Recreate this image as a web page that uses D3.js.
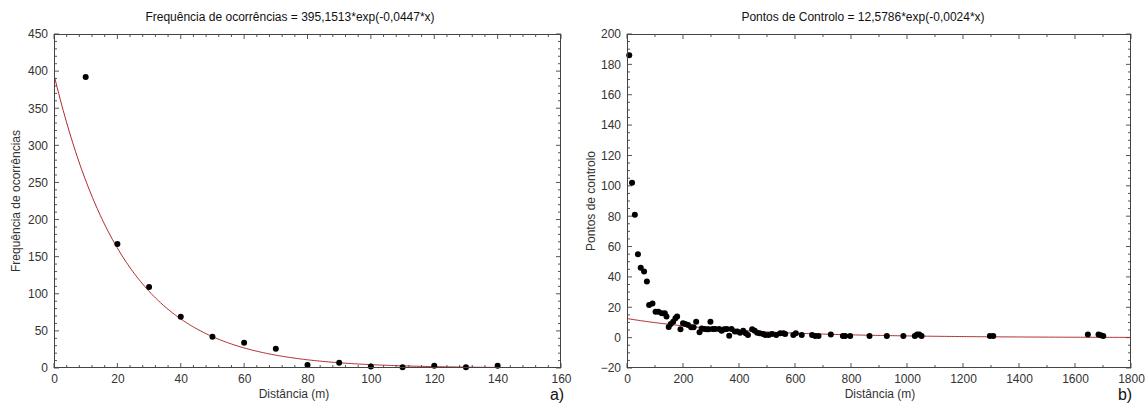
<!DOCTYPE html>
<html>
<head>
<meta charset="utf-8">
<script src="https://cdn.jsdelivr.net/npm/d3@7"></script>
<style>
  body { margin: 0; background: #fff; }
  svg { display: block; font-family: Arial, "Liberation Sans", sans-serif; }
  .tick-label { font-size: 12px; fill: #333; }
  .title { font-size: 12px; fill: #111; }
  .axis-title { font-size: 12px; fill: #333; }
  .panel-tag { font-size: 16px; fill: #111; }
  .frame { fill: none; stroke: #444; stroke-width: 1; }
  .tk { stroke: #555; stroke-width: 1; }
  .fit { fill: none; stroke: #b22a2a; stroke-width: 1; }
  .dot { fill: #000; }
</style>
</head>
<body>
<div id="chart"></div>
<script>
// painel a) frequencia de ocorrencias
const distA = [10, 20, 30, 40, 50, 60, 70, 80, 90, 100, 110, 120, 130, 140]
const freqA = [392, 167, 109, 69, 42, 34, 26, 4, 7, 2, 1, 3, 1, 3]
const fitA = { a: 395.1513, b: -0.0447, xmax: 146 }

// painel b) pontos de controlo
const distB = [8, 18, 28, 39, 49, 61, 71, 79, 91, 102, 112, 124, 135, 141,
  149, 156, 165, 173, 179, 191, 200, 208, 218, 229, 238, 247, 259, 267, 276,
  285, 292, 298, 306, 315, 329, 338, 347, 356, 365, 373, 385, 394, 404, 415,
  424, 432, 447, 456, 465, 474, 486, 494, 506, 518, 533, 547, 559, 565, 594,
  603, 624, 661, 672, 684, 728, 771, 779, 797, 866, 928, 987, 1028, 1036,
  1044, 1052, 1296, 1308, 1646, 1684, 1692, 1701]
const pontosB = [186, 102, 81, 55, 46, 43.5, 37, 21.5, 22.5, 17, 17, 16, 16, 14,
  7, 9, 10.5, 12.7, 14, 5.5, 9.4, 9, 8.3, 6.8, 6.8, 10.5, 3.5, 6, 5.7,
  5.5, 5.5, 10.5, 5.7, 5.7, 5.7, 4.6, 5.5, 5.7, 1.3, 5.7, 4, 4, 3.3, 4.6,
  2.9, 1.8, 5.5, 4.6, 3.3, 2.9, 2.4, 1.8, 1.8, 2.4, 1.8, 2.9, 2.9, 2.4, 1.8,
  2.9, 1.8, 1.8, 1, 1, 2, 1, 1, 1, 1, 1, 1, 1, 2, 2, 1,
  1, 1, 2, 2, 1.5, 1]
const fitB = { a: 12.5786, b: -0.0024, xmax: 1800 }

const W = 1147, H = 403

const svg = d3.select('#chart').append('svg')
  .attr('width', W)
  .attr('height', H)

const panels = [
  {
    xs: distA, ys: freqA, fit: fitA,
    left: 54, right: 561, top: 34, bottom: 368,
    xDomain: [0, 160], xMajor: 20, xMinor: 4,
    yDomain: [0, 450], yMajor: 50, yMinor: 10,
    title: 'Frequência de ocorrências = 395,1513*exp(-0,0447*x)',
    titleX: 290,
    yTitle: 'Frequência de ocorrências', yTitleX: 16,
    xTitle: 'Distância (m)', xTitleX: 294,
    tag: 'a)', tagX: 557
  },
  {
    xs: distB, ys: pontosB, fit: fitB,
    left: 627, right: 1131, top: 34, bottom: 368,
    xDomain: [0, 1800], xMajor: 200, xMinor: 100,
    yDomain: [-20, 200], yMajor: 20, yMinor: 5,
    title: 'Pontos de Controlo = 12,5786*exp(-0,0024*x)',
    titleX: 863,
    yTitle: 'Pontos de controlo', yTitleX: 591,
    xTitle: 'Distância (m)', xTitleX: 880,
    tag: 'b)', tagX: 1125
  }
]

function ticksBetween(lo, hi, step) {
  const out = []
  const n = Math.round((hi - lo) / step)
  for (let i = 0; i <= n; i++) out.push(lo + i * step)
  return out
}

panels.forEach(p => {
  const g = svg.append('g')
  const x = d3.scaleLinear().domain(p.xDomain).range([p.left, p.right])
  const y = d3.scaleLinear().domain(p.yDomain).range([p.bottom, p.top])

  // clip para a curva
  const clipId = 'clip' + p.left
  g.append('clipPath').attr('id', clipId)
    .append('rect')
    .attr('x', p.left).attr('y', p.top)
    .attr('width', p.right - p.left).attr('height', p.bottom - p.top)

  // ticks minor / major nos 4 lados, para dentro
  const xMinors = ticksBetween(p.xDomain[0], p.xDomain[1], p.xMinor)
  const yMinors = ticksBetween(p.yDomain[0], p.yDomain[1], p.yMinor)
  const isMajor = (v, step, lo) => Math.abs(((v - lo) / step) - Math.round((v - lo) / step)) < 1e-6

  const tg = g.append('g')
  xMinors.forEach(v => {
    const len = isMajor(v, p.xMajor, p.xDomain[0]) ? 5 : 3
    tg.append('line').attr('class', 'tk')
      .attr('x1', x(v)).attr('x2', x(v))
      .attr('y1', p.bottom).attr('y2', p.bottom - len)
    tg.append('line').attr('class', 'tk')
      .attr('x1', x(v)).attr('x2', x(v))
      .attr('y1', p.top).attr('y2', p.top + len)
  })
  yMinors.forEach(v => {
    const len = isMajor(v, p.yMajor, p.yDomain[0]) ? 5 : 3
    tg.append('line').attr('class', 'tk')
      .attr('x1', p.left).attr('x2', p.left + len)
      .attr('y1', y(v)).attr('y2', y(v))
    tg.append('line').attr('class', 'tk')
      .attr('x1', p.right).attr('x2', p.right - len)
      .attr('y1', y(v)).attr('y2', y(v))
  })

  // labels dos eixos via d3.axis
  const xAxis = d3.axisBottom(x)
    .tickValues(ticksBetween(p.xDomain[0], p.xDomain[1], p.xMajor))
    .tickSize(0).tickPadding(6).tickFormat(d3.format('d'))
  const gx = g.append('g').attr('transform', `translate(0,${p.bottom})`).call(xAxis)
  gx.select('.domain').remove()
  gx.selectAll('text').attr('class', 'tick-label').attr('font-size', null).attr('font-family', null).attr('fill', null)

  const yAxis = d3.axisLeft(y)
    .tickValues(ticksBetween(p.yDomain[0], p.yDomain[1], p.yMajor))
    .tickSize(0).tickPadding(6).tickFormat(d3.format('d'))
  const gy = g.append('g').attr('transform', `translate(${p.left},0)`).call(yAxis)
  gy.select('.domain').remove()
  gy.selectAll('text').attr('class', 'tick-label').attr('font-size', null).attr('font-family', null).attr('fill', null)

  // curva ajustada
  const curveX = d3.range(0, p.fit.xmax + 1e-9, p.fit.xmax / 300)
  const line = d3.line()
    .x(d => x(d))
    .y(d => y(p.fit.a * Math.exp(p.fit.b * d)))
  g.append('path')
    .datum(curveX)
    .attr('class', 'fit')
    .attr('clip-path', `url(#${clipId})`)
    .attr('d', line)

  // pontos
  g.append('g')
    .selectAll('circle')
    .data(p.xs.map((v, i) => [v, p.ys[i]]))
    .enter().append('circle')
    .attr('class', 'dot')
    .attr('cx', d => x(d[0]))
    .attr('cy', d => y(d[1]))
    .attr('r', 3)

  // moldura
  g.append('rect').attr('class', 'frame')
    .attr('x', p.left + 0.5).attr('y', p.top + 0.5)
    .attr('width', p.right - p.left - 1).attr('height', p.bottom - p.top - 1)

  // textos
  g.append('text').attr('class', 'title')
    .attr('x', p.titleX).attr('y', 21)
    .attr('text-anchor', 'middle')
    .text(p.title)

  g.append('text').attr('class', 'axis-title')
    .attr('x', p.xTitleX).attr('y', 398)
    .attr('text-anchor', 'middle')
    .text(p.xTitle)

  g.append('text').attr('class', 'axis-title')
    .attr('transform', `translate(${p.yTitleX + 4},${(p.top + p.bottom) / 2}) rotate(-90)`)
    .attr('text-anchor', 'middle')
    .text(p.yTitle)

  g.append('text').attr('class', 'panel-tag')
    .attr('x', p.tagX).attr('y', 400)
    .attr('text-anchor', 'middle')
    .text(p.tag)
})
</script>
</body>
</html>
